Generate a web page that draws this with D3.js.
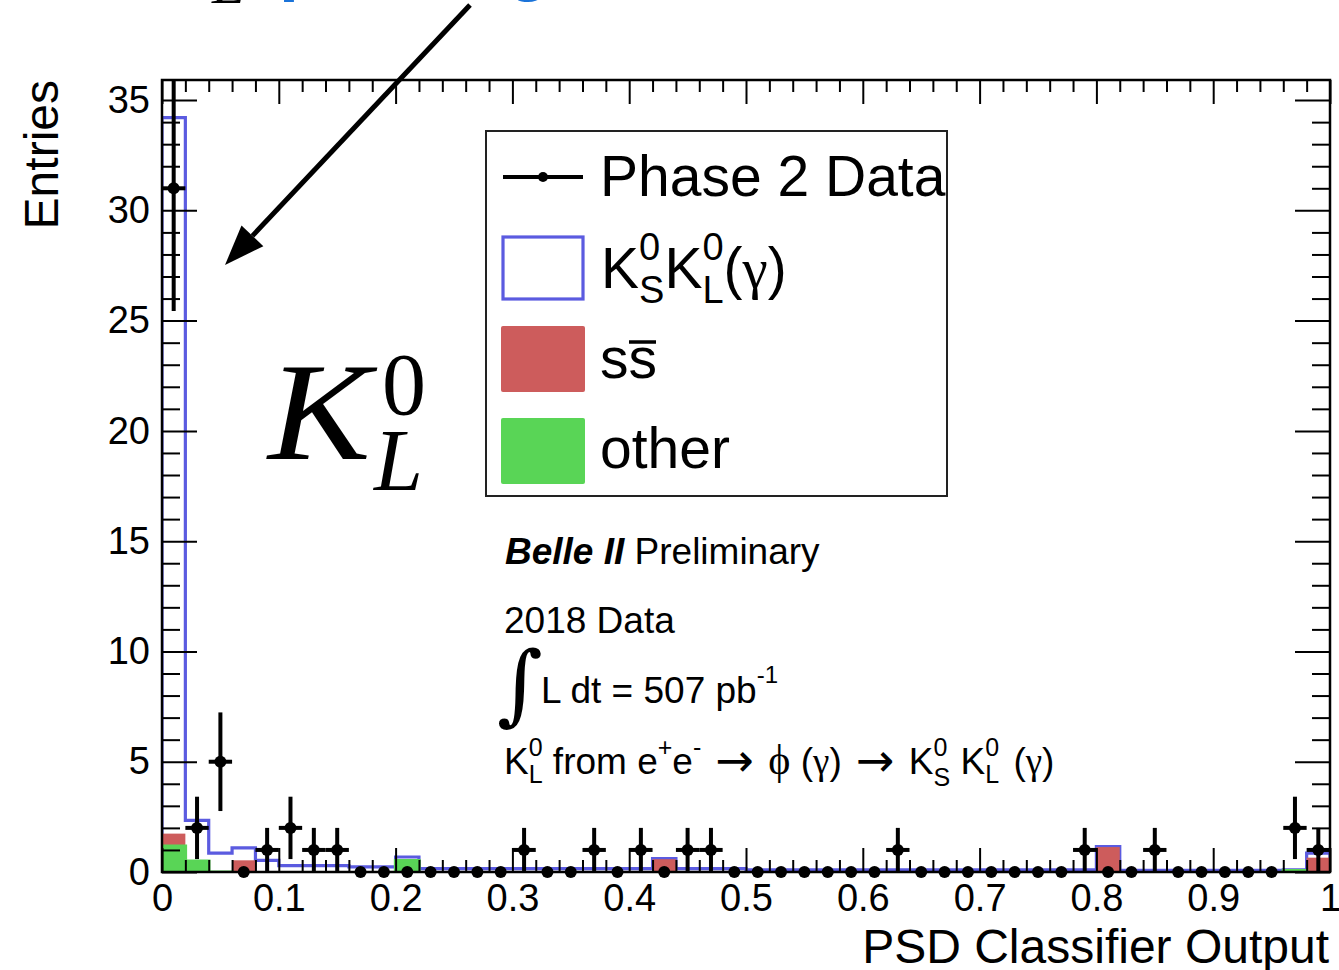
<!DOCTYPE html>
<html>
<head>
<meta charset="utf-8">
<script src="https://cdn.jsdelivr.net/npm/d3@7"></script>
<style>
  body { margin: 0; background: #fff; }
  svg { font-family: "Liberation Sans", Arial, Helvetica, sans-serif; }
  svg text { white-space: pre; }
</style>
</head>
<body>
<svg id="chart" width="1339" height="970"></svg>
<script>
// Histogram binning of the PSD classifier output (50 bins of width 0.02)
const binCenters = [
  0.01, 0.03, 0.05, 0.07, 0.09, 0.11, 0.13, 0.15, 0.17, 0.19,
  0.21, 0.23, 0.25, 0.27, 0.29, 0.31, 0.33, 0.35, 0.37, 0.39,
  0.41, 0.43, 0.45, 0.47, 0.49, 0.51, 0.53, 0.55, 0.57, 0.59,
  0.61, 0.63, 0.65, 0.67, 0.69, 0.71, 0.73, 0.75, 0.77, 0.79,
  0.81, 0.83, 0.85, 0.87, 0.89, 0.91, 0.93, 0.95, 0.97, 0.99
];
const binWidth = 0.02;

// Phase 2 data (entries per bin)
const dataCounts = [
  31, 2, 5, 0, 1, 2, 1, 1, 0, 0,
  0, 0, 0, 0, 0, 1, 0, 0, 1, 0,
  1, 0, 1, 1, 0, 0, 0, 0, 0, 0,
  0, 1, 0, 0, 0, 0, 0, 0, 0, 1,
  0, 0, 1, 0, 0, 0, 0, 0, 2, 1
];

// Simulation components, stacked bottom to top: other, s sbar, KS KL (gamma)
const otherMC = [
  1.21, 0.53, 0.03, 0, 0, 0, 0, 0, 0, 0,
  0.56, 0, 0, 0, 0, 0, 0, 0, 0, 0,
  0, 0, 0, 0, 0, 0, 0, 0, 0, 0,
  0, 0, 0, 0, 0, 0, 0, 0, 0, 0,
  0, 0, 0, 0, 0, 0, 0, 0, 0.10, 0
];
const ssbarMC = [
  0.53, 0, 0, 0.53, 0, 0, 0, 0, 0, 0,
  0, 0, 0, 0, 0, 0, 0, 0, 0, 0,
  0, 0.58, 0, 0, 0, 0, 0, 0, 0, 0,
  0, 0, 0, 0, 0, 0, 0, 0, 0, 0,
  1.13, 0, 0, 0, 0, 0, 0, 0, 0, 0.65
];
const ksklMC = [
  32.46, 1.81, 0.83, 0.56, 0.53, 0.29, 0.29, 0.29, 0.23, 0.23,
  0.12, 0.15, 0.15, 0.15, 0.15, 0.15, 0.15, 0.15, 0.15, 0.15,
  0.15, 0.03, 0.15, 0.15, 0.15, 0.10, 0.10, 0.10, 0.10, 0.10,
  0.10, 0.10, 0.10, 0.10, 0.10, 0.10, 0.10, 0.10, 0.10, 0.10,
  0.02, 0.08, 0.08, 0.08, 0.08, 0.08, 0.08, 0.08, 0, 0.21
];

// Axis ticks and labels
const xMajorTicks = [0, 0.1, 0.2, 0.3, 0.4, 0.5, 0.6, 0.7, 0.8, 0.9, 1];
const xTickLabels = ["0", "0.1", "0.2", "0.3", "0.4", "0.5", "0.6", "0.7", "0.8", "0.9", "1"];
const yMajorTicks = [0, 5, 10, 15, 20, 25, 30, 35];
const yTickLabels = ["0", "5", "10", "15", "20", "25", "30", "35"];
const xRange = [0, 1];
const yMax = 35.91;

const colors = {
  kskl: "#5b5be0",
  ssbar: "#cd5c5c",
  other: "#59d556",
  data: "#000"
};

const svg = d3.select("#chart");
const frame = { left: 162, right: 1330, top: 80, bottom: 872 };

const x = d3.scaleLinear().domain(xRange).range([frame.left, frame.right]);
const y = d3.scaleLinear().domain([0, yMax]).range([frame.bottom, frame.top]);

svg.append("defs").append("clipPath").attr("id", "plotClip")
  .append("rect")
  .attr("x", frame.left).attr("y", frame.top)
  .attr("width", frame.right - frame.left).attr("height", frame.bottom - frame.top);

const plot = svg.append("g").attr("clip-path", "url(#plotClip)");

// cumulative stack heights
const greenTop = otherMC.map(v => v);
const redTop = otherMC.map((v, i) => v + ssbarMC[i]);
const totalTop = redTop.map((v, i) => v + ksklMC[i]);

function stepPoints(values) {
  const pts = [[xRange[0], 0]];
  values.forEach((v, i) => {
    pts.push([binCenters[i] - binWidth / 2, v], [binCenters[i] + binWidth / 2, v]);
  });
  pts.push([xRange[1], 0]);
  return pts;
}
const stepLine = d3.line().x(d => x(d[0])).y(d => y(d[1]));

// KS KL (gamma): hollow outline on top of the stack
plot.append("path")
  .attr("d", stepLine(stepPoints(totalTop)))
  .attr("fill", "none")
  .attr("stroke", colors.kskl)
  .attr("stroke-width", 3.2);

// s sbar: filled, stacked on "other"
plot.append("g").selectAll("rect")
  .data(binCenters.map((c, i) => ({ c, top: redTop[i], v: ssbarMC[i] })).filter(d => d.v > 0))
  .join("rect")
  .attr("x", d => x(d.c - binWidth / 2))
  .attr("width", d => x(d.c + binWidth / 2) - x(d.c - binWidth / 2))
  .attr("y", d => y(d.top))
  .attr("height", d => y(0) - y(d.top))
  .attr("fill", colors.ssbar);

// other: filled at the bottom of the stack
plot.append("g").selectAll("rect")
  .data(binCenters.map((c, i) => ({ c, top: greenTop[i] })).filter(d => d.top > 0))
  .join("rect")
  .attr("x", d => x(d.c - binWidth / 2))
  .attr("width", d => x(d.c + binWidth / 2) - x(d.c - binWidth / 2))
  .attr("y", d => y(d.top))
  .attr("height", d => y(0) - y(d.top))
  .attr("fill", colors.other);
plot.append("path")
  .attr("d", stepLine(stepPoints(greenTop)))
  .attr("fill", "none")
  .attr("stroke", colors.other)
  .attr("stroke-width", 3.5)
  .attr("transform", "translate(0,1)");

// ---- axes (ticks drawn inward on all four sides) ----
const xMinorTicks = d3.range(0, 50 + 1).map(k => k * 0.02).filter(v => !xMajorTicks.some(m => Math.abs(m - v) < 1e-9));
const yMinorTicks = d3.range(0, 36).filter(v => v % 5 !== 0);
const tickStroke = 2;
const xTickLong = 24, xTickShort = 12, yTickLong = 35, yTickShort = 18;

function styleAxis(g, fontSize) {
  g.select(".domain").remove();
  g.selectAll(".tick line").attr("stroke", "#000").attr("stroke-width", tickStroke);
  g.selectAll(".tick text").attr("font-size", fontSize).attr("fill", "#000")
    .attr("font-family", "Liberation Sans, Arial, sans-serif");
}

const xLabelMap = new Map(xMajorTicks.map((t, i) => [t, xTickLabels[i]]));
const yLabelMap = new Map(yMajorTicks.map((t, i) => [t, yTickLabels[i]]));

svg.append("g").attr("transform", `translate(0,${frame.bottom})`)
  .call(d3.axisBottom(x).tickValues(xMajorTicks).tickSize(-xTickLong).tickPadding(12)
    .tickFormat(d => xLabelMap.get(d)))
  .call(g => styleAxis(g, 38));
svg.append("g").attr("transform", `translate(0,${frame.bottom})`)
  .call(d3.axisBottom(x).tickValues(xMinorTicks).tickSize(-xTickShort).tickFormat(""))
  .call(g => styleAxis(g, 38));
svg.append("g").attr("transform", `translate(0,${frame.top})`)
  .call(d3.axisTop(x).tickValues(xMajorTicks).tickSize(-xTickLong).tickFormat(""))
  .call(g => styleAxis(g, 38));
svg.append("g").attr("transform", `translate(0,${frame.top})`)
  .call(d3.axisTop(x).tickValues(xMinorTicks).tickSize(-xTickShort).tickFormat(""))
  .call(g => styleAxis(g, 38));

svg.append("g").attr("transform", `translate(${frame.left},0)`)
  .call(d3.axisLeft(y).tickValues(yMajorTicks).tickSize(-yTickLong).tickPadding(12)
    .tickFormat(d => yLabelMap.get(d)))
  .call(g => styleAxis(g, 38));
svg.append("g").attr("transform", `translate(${frame.left},0)`)
  .call(d3.axisLeft(y).tickValues(yMinorTicks).tickSize(-yTickShort).tickFormat(""))
  .call(g => styleAxis(g, 38));
svg.append("g").attr("transform", `translate(${frame.right},0)`)
  .call(d3.axisRight(y).tickValues(yMajorTicks).tickSize(-yTickLong).tickFormat(""))
  .call(g => styleAxis(g, 38));
svg.append("g").attr("transform", `translate(${frame.right},0)`)
  .call(d3.axisRight(y).tickValues(yMinorTicks).tickSize(-yTickShort).tickFormat(""))
  .call(g => styleAxis(g, 38));

svg.append("rect")
  .attr("x", frame.left).attr("y", frame.top)
  .attr("width", frame.right - frame.left).attr("height", frame.bottom - frame.top)
  .attr("fill", "none").attr("stroke", "#000").attr("stroke-width", 2.5);

// axis titles
svg.append("text")
  .attr("transform", `translate(58,${frame.top}) rotate(-90)`)
  .attr("text-anchor", "end")
  .attr("font-size", 48)
  .text("Entries");
svg.append("text")
  .attr("x", 1329).attr("y", 963)
  .attr("text-anchor", "end")
  .attr("font-size", 48)
  .text("PSD Classifier Output");

// ---- data points with sqrt(N) error bars ----
const dataG = plot.append("g");
const pts = binCenters.map((c, i) => ({ c, n: dataCounts[i] }));
dataG.selectAll("line.ey")
  .data(pts.filter(d => d.n > 0))
  .join("line")
  .attr("x1", d => x(d.c)).attr("x2", d => x(d.c))
  .attr("y1", d => y(d.n - Math.sqrt(d.n)))
  .attr("y2", d => y(d.n + Math.sqrt(d.n)))
  .attr("stroke", colors.data).attr("stroke-width", 4);
dataG.selectAll("line.ex")
  .data(pts.filter(d => d.n > 0))
  .join("line")
  .attr("x1", d => x(d.c - binWidth / 2)).attr("x2", d => x(d.c + binWidth / 2))
  .attr("y1", d => y(d.n)).attr("y2", d => y(d.n))
  .attr("stroke", colors.data).attr("stroke-width", 4);
svg.append("g").selectAll("circle")
  .data(pts)
  .join("circle")
  .attr("cx", d => x(d.c)).attr("cy", d => y(d.n))
  .attr("r", 6)
  .attr("fill", colors.data);

// text flow helper: pieces laid out left to right; "stack" pieces share the x of the previous piece
function flowText(g, x0, baseline, size, pieces) {
  let cursor = x0, groupStart = x0, groupEnd = x0;
  pieces.forEach(p => {
    const fs = p.size || size;
    const px = (p.stack ? groupStart : cursor) + (p.dx || 0);
    const t = g.append("text").attr("x", px).attr("y", baseline + (p.dy || 0))
      .attr("font-size", fs).text(p.t);
    if (p.family) t.attr("font-family", p.family);
    if (p.style) t.attr("font-style", p.style);
    const w = t.node().getComputedTextLength() + (p.after || 0);
    if (p.stack) {
      groupEnd = Math.max(groupEnd, px + w);
    } else {
      groupStart = px;
      groupEnd = px + w;
    }
    cursor = groupEnd;
  });
  return cursor;
}

// ---- legend ----
const lg = svg.append("g");
lg.append("rect").attr("x", 486).attr("y", 131).attr("width", 461).attr("height", 365)
  .attr("fill", "#fff").attr("stroke", "#222").attr("stroke-width", 2);
lg.append("line").attr("x1", 503).attr("x2", 583).attr("y1", 177).attr("y2", 177)
  .attr("stroke", "#000").attr("stroke-width", 4);
lg.append("circle").attr("cx", 543).attr("cy", 177).attr("r", 5).attr("fill", "#000");
lg.append("text").attr("x", 600).attr("y", 196).attr("font-size", 57).text("Phase 2 Data");
lg.append("rect").attr("x", 503).attr("y", 237).attr("width", 80).attr("height", 62)
  .attr("fill", "#fff").attr("stroke", colors.kskl).attr("stroke-width", 3.2);
lg.append("rect").attr("x", 501).attr("y", 326).attr("width", 84).attr("height", 66)
  .attr("rx", 2).attr("fill", colors.ssbar);
lg.append("rect").attr("x", 501).attr("y", 418).attr("width", 84).attr("height", 66)
  .attr("rx", 2).attr("fill", colors.other);

flowText(lg, 601, 288, 57, [
  { t: "K" }, { t: "0", size: 38, dy: -28 }, { t: "S", size: 38, dy: 15, stack: true },
  { t: "K" }, { t: "0", size: 38, dy: -28 }, { t: "L", size: 38, dy: 15, stack: true },
  { t: "(" }, { t: "γ", family: "Liberation Serif, serif" }, { t: ")" }
]);
lg.append("text").attr("x", 600).attr("y", 378).attr("font-size", 57).text("ss");
lg.append("line").attr("x1", 629).attr("x2", 656).attr("y1", 342).attr("y2", 342)
  .attr("stroke", "#000").attr("stroke-width", 3.5);
lg.append("text").attr("x", 600).attr("y", 468).attr("font-size", 57).text("other");

// ---- experiment labels ----
const info = svg.append("g");
const belle = info.append("text").attr("x", 505).attr("y", 564).attr("font-size", 37);
belle.append("tspan").attr("font-weight", "bold").attr("font-style", "italic").text("Belle II");
belle.append("tspan").text(" Preliminary");
info.append("text").attr("x", 497).attr("y", 714).attr("font-size", 88)
  .attr("font-family", "DejaVu Serif, serif").text("∫");
flowText(info, 541, 703, 37, [
  { t: "L dt = 507 pb" }, { t: "-1", size: 24, dy: -20 }
]);
info.append("text").attr("x", 504).attr("y", 633).attr("font-size", 37).text("2018 Data");
const arrowFont = "DejaVu Sans, sans-serif";
const serif = "Liberation Serif, serif";
flowText(info, 504, 774, 37, [
  { t: "K" }, { t: "0", size: 25, dy: -18 }, { t: "L", size: 25, dy: 9, stack: true },
  { t: " from e" }, { t: "+", size: 25, dy: -18 }, { t: "e" }, { t: "-", size: 25, dy: -18 },
  { t: " " }, { t: "→", family: arrowFont, size: 46, dy: 2, dx: 4, after: 4 }, { t: " " },
  { t: "ϕ", family: serif, size: 42 },
  { t: " (" }, { t: "γ", family: serif }, { t: ") " },
  { t: "→", family: arrowFont, size: 46, dy: 2, dx: 4, after: 4 },
  { t: " K" }, { t: "0", size: 25, dy: -18 }, { t: "S", size: 25, dy: 12, stack: true },
  { t: " K" }, { t: "0", size: 25, dy: -18 }, { t: "L", size: 25, dy: 9, stack: true },
  { t: " (", dx: 4 }, { t: "γ", family: serif }, { t: ")" }
]);

// large K_L^0 symbol
const big = svg.append("g").attr("font-family", "Liberation Serif, Times New Roman, serif");
big.append("text").attr("x", 268).attr("y", 459).attr("font-size", 140)
  .attr("font-style", "italic").attr("transform", "translate(268,0) scale(1.1,1) translate(-268,0)")
  .text("K");
big.append("text").attr("x", 382).attr("y", 414).attr("font-size", 88).text("0");
big.append("text").attr("x", 374).attr("y", 490).attr("font-size", 88)
  .attr("font-style", "italic").text("L");

// annotation arrow pointing at the first bin
const arrow = { x1: 470, y1: 5, x2: 225, y2: 265 };
const ang = Math.atan2(arrow.y2 - arrow.y1, arrow.x2 - arrow.x1);
const headLen = 40, headHalf = 15;
const bx = arrow.x2 - headLen * Math.cos(ang), by = arrow.y2 - headLen * Math.sin(ang);
svg.append("line")
  .attr("x1", arrow.x1).attr("y1", arrow.y1).attr("x2", bx).attr("y2", by)
  .attr("stroke", "#000").attr("stroke-width", 5);
svg.append("path")
  .attr("d", `M${arrow.x2},${arrow.y2} L${bx - headHalf * Math.sin(ang)},${by + headHalf * Math.cos(ang)} L${bx + headHalf * Math.sin(ang)},${by - headHalf * Math.cos(ang)} Z`)
  .attr("fill", "#000");

// caption line above the plot (only its lowest part lies inside the page)
svg.append("text").attr("x", 212).attr("y", 3).attr("font-size", 60)
  .attr("font-family", "Liberation Serif, serif").attr("font-style", "italic").text("L");
svg.append("text").attr("x", 279).attr("y", -13).attr("font-size", 72)
  .attr("font-weight", "bold").attr("fill", "#1a73d9").text("peaking");
</script>
</body>
</html>
